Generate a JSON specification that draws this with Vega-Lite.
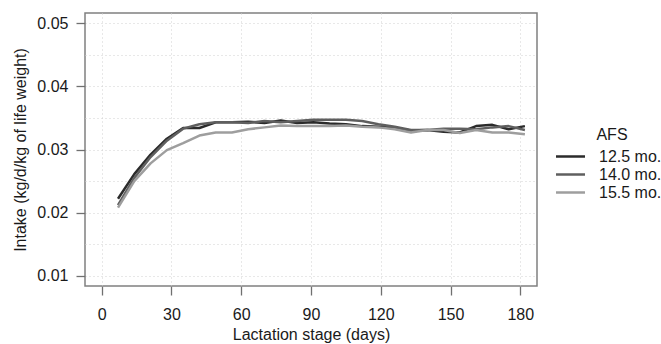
{
  "$schema": "https://vega.github.io/schema/vega-lite/v6.json",
  "width": 452,
  "height": 273,
  "autosize": "none",
  "padding": {"left": 85, "top": 13, "right": 124, "bottom": 58},
  "background": "white",
  "config": {
    "font": "Liberation Sans",
    "view": {"stroke": "#808080", "strokeWidth": 1.5},
    "axis": {
      "labelFont": "Liberation Sans",
      "titleFont": "Liberation Sans",
      "labelFontSize": 16,
      "titleFontSize": 16,
      "labelColor": "#1a1a1a",
      "titleColor": "#1a1a1a",
      "titleFontWeight": "normal",
      "domain": false,
      "tickColor": "#707070",
      "tickWidth": 1.3,
      "tickSize": 9,
      "gridColor": "#d0d0d0",
      "gridDash": [1, 3],
      "gridWidth": 1
    },
    "legend": {
      "labelFont": "Liberation Sans",
      "titleFont": "Liberation Sans",
      "labelFontSize": 16,
      "titleFontSize": 16,
      "titleFontWeight": "normal",
      "labelColor": "#1a1a1a",
      "titleColor": "#1a1a1a"
    }
  },
  "data": {
    "values": [
      {"day": 7, "afs": "12.5 mo.", "intake": 0.0222},
      {"day": 14, "afs": "12.5 mo.", "intake": 0.0261},
      {"day": 21, "afs": "12.5 mo.", "intake": 0.0292},
      {"day": 28, "afs": "12.5 mo.", "intake": 0.0317},
      {"day": 35, "afs": "12.5 mo.", "intake": 0.0334},
      {"day": 42, "afs": "12.5 mo.", "intake": 0.0334},
      {"day": 49, "afs": "12.5 mo.", "intake": 0.0343},
      {"day": 56, "afs": "12.5 mo.", "intake": 0.0343},
      {"day": 63, "afs": "12.5 mo.", "intake": 0.0344},
      {"day": 70, "afs": "12.5 mo.", "intake": 0.0342},
      {"day": 77, "afs": "12.5 mo.", "intake": 0.0346},
      {"day": 84, "afs": "12.5 mo.", "intake": 0.0342},
      {"day": 91, "afs": "12.5 mo.", "intake": 0.0343},
      {"day": 98, "afs": "12.5 mo.", "intake": 0.0341},
      {"day": 105, "afs": "12.5 mo.", "intake": 0.0340},
      {"day": 112, "afs": "12.5 mo.", "intake": 0.0337},
      {"day": 119, "afs": "12.5 mo.", "intake": 0.0336},
      {"day": 126, "afs": "12.5 mo.", "intake": 0.0334},
      {"day": 133, "afs": "12.5 mo.", "intake": 0.0330},
      {"day": 140, "afs": "12.5 mo.", "intake": 0.0331},
      {"day": 147, "afs": "12.5 mo.", "intake": 0.0328},
      {"day": 154, "afs": "12.5 mo.", "intake": 0.0327},
      {"day": 161, "afs": "12.5 mo.", "intake": 0.0337},
      {"day": 168, "afs": "12.5 mo.", "intake": 0.0339},
      {"day": 175, "afs": "12.5 mo.", "intake": 0.0332},
      {"day": 182, "afs": "12.5 mo.", "intake": 0.0337},
      {"day": 7, "afs": "14.0 mo.", "intake": 0.0212},
      {"day": 14, "afs": "14.0 mo.", "intake": 0.0255},
      {"day": 21, "afs": "14.0 mo.", "intake": 0.0288},
      {"day": 28, "afs": "14.0 mo.", "intake": 0.0314},
      {"day": 35, "afs": "14.0 mo.", "intake": 0.0333},
      {"day": 42, "afs": "14.0 mo.", "intake": 0.0340},
      {"day": 49, "afs": "14.0 mo.", "intake": 0.0343},
      {"day": 56, "afs": "14.0 mo.", "intake": 0.0343},
      {"day": 63, "afs": "14.0 mo.", "intake": 0.0342},
      {"day": 70, "afs": "14.0 mo.", "intake": 0.0345},
      {"day": 77, "afs": "14.0 mo.", "intake": 0.0343},
      {"day": 84, "afs": "14.0 mo.", "intake": 0.0345},
      {"day": 91, "afs": "14.0 mo.", "intake": 0.0347},
      {"day": 98, "afs": "14.0 mo.", "intake": 0.0347},
      {"day": 105, "afs": "14.0 mo.", "intake": 0.0347},
      {"day": 112, "afs": "14.0 mo.", "intake": 0.0345},
      {"day": 119, "afs": "14.0 mo.", "intake": 0.0340},
      {"day": 126, "afs": "14.0 mo.", "intake": 0.0336},
      {"day": 133, "afs": "14.0 mo.", "intake": 0.0331},
      {"day": 140, "afs": "14.0 mo.", "intake": 0.0331},
      {"day": 147, "afs": "14.0 mo.", "intake": 0.0333},
      {"day": 154, "afs": "14.0 mo.", "intake": 0.0333},
      {"day": 161, "afs": "14.0 mo.", "intake": 0.0332},
      {"day": 168, "afs": "14.0 mo.", "intake": 0.0335},
      {"day": 175, "afs": "14.0 mo.", "intake": 0.0337},
      {"day": 182, "afs": "14.0 mo.", "intake": 0.0331},
      {"day": 7, "afs": "15.5 mo.", "intake": 0.0208},
      {"day": 14, "afs": "15.5 mo.", "intake": 0.0250},
      {"day": 21, "afs": "15.5 mo.", "intake": 0.0278},
      {"day": 28, "afs": "15.5 mo.", "intake": 0.0299},
      {"day": 35, "afs": "15.5 mo.", "intake": 0.0310},
      {"day": 42, "afs": "15.5 mo.", "intake": 0.0322},
      {"day": 49, "afs": "15.5 mo.", "intake": 0.0327},
      {"day": 56, "afs": "15.5 mo.", "intake": 0.0327},
      {"day": 63, "afs": "15.5 mo.", "intake": 0.0332},
      {"day": 70, "afs": "15.5 mo.", "intake": 0.0335},
      {"day": 77, "afs": "15.5 mo.", "intake": 0.0338},
      {"day": 84, "afs": "15.5 mo.", "intake": 0.0337},
      {"day": 91, "afs": "15.5 mo.", "intake": 0.0337},
      {"day": 98, "afs": "15.5 mo.", "intake": 0.0337},
      {"day": 105, "afs": "15.5 mo.", "intake": 0.0338},
      {"day": 112, "afs": "15.5 mo.", "intake": 0.0336},
      {"day": 119, "afs": "15.5 mo.", "intake": 0.0335},
      {"day": 126, "afs": "15.5 mo.", "intake": 0.0332},
      {"day": 133, "afs": "15.5 mo.", "intake": 0.0327},
      {"day": 140, "afs": "15.5 mo.", "intake": 0.0331},
      {"day": 147, "afs": "15.5 mo.", "intake": 0.0331},
      {"day": 154, "afs": "15.5 mo.", "intake": 0.0326},
      {"day": 161, "afs": "15.5 mo.", "intake": 0.0331},
      {"day": 168, "afs": "15.5 mo.", "intake": 0.0327},
      {"day": 175, "afs": "15.5 mo.", "intake": 0.0327},
      {"day": 182, "afs": "15.5 mo.", "intake": 0.0324}
    ]
  },
  "mark": {"type": "line", "strokeWidth": 2.5, "strokeJoin": "round"},
  "encoding": {
    "x": {
      "field": "day",
      "type": "quantitative",
      "title": "Lactation stage (days)",
      "scale": {"domain": [-7.2, 187.2], "nice": false, "zero": false},
      "axis": {
        "values": [0, 30, 60, 90, 120, 150, 180],
        "labelPadding": 11,
        "titlePadding": 4,
        "labelFlush": false
      }
    },
    "y": {
      "field": "intake",
      "type": "quantitative",
      "title": "Intake (kg/d/kg of life weight)",
      "scale": {"domain": [0.0084, 0.0516], "nice": false, "zero": false},
      "axis": {
        "values": [0.01, 0.015, 0.02, 0.025, 0.03, 0.035, 0.04, 0.045, 0.05],
        "labelExpr": "round(datum.value*1000) % 10 == 0 ? format(datum.value, '.2f') : ''",
        "tickOpacity": {"condition": {"test": "round(datum.value*1000) % 10 == 0", "value": 1}, "value": 0},
        "labelPadding": 8,
        "titlePadding": 8,
        "labelFlush": false
      }
    },
    "color": {
      "field": "afs",
      "type": "nominal",
      "title": "AFS",
      "scale": {"domain": ["12.5 mo.", "14.0 mo.", "15.5 mo."], "range": ["#2b2b2b", "#5f5f5f", "#9e9e9e"]},
      "legend": {
        "orient": "none",
        "legendX": 477,
        "legendY": 114,
        "padding": 0,
        "symbolType": "M-2,0H2",
        "symbolSize": 210,
        "symbolStrokeWidth": 2.5,
        "symbolFillColor": "transparent",
        "labelOffset": 20,
        "rowPadding": 1,
        "titlePadding": 5,
        "titleAnchor": "middle"
      }
    }
  }
}
